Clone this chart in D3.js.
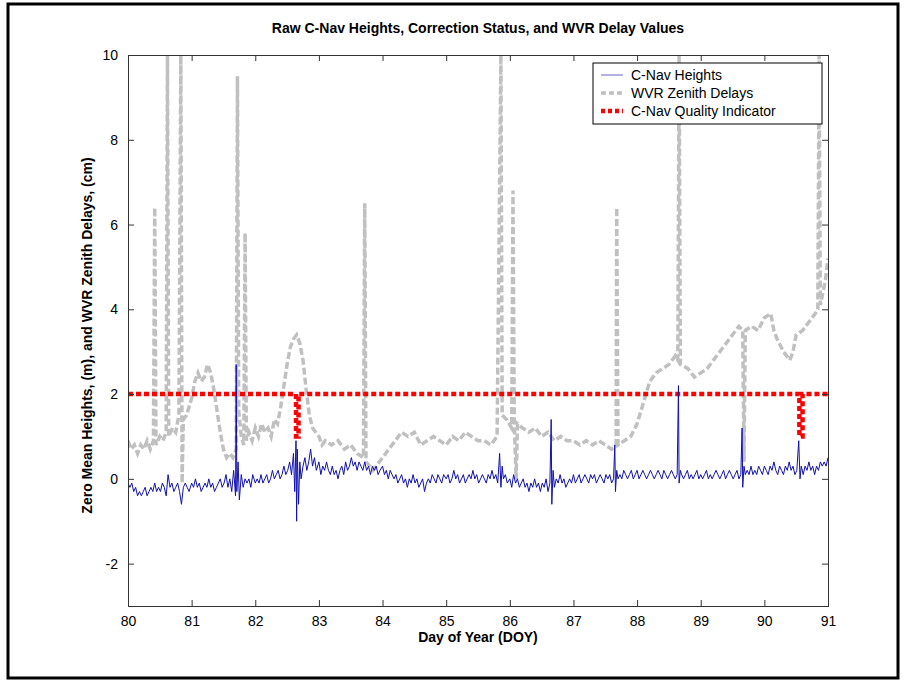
<!DOCTYPE html>
<html>
<head>
<meta charset="utf-8">
<script src="https://cdn.jsdelivr.net/npm/d3@7"></script>
<style>
  body { margin: 0; background: #fff; }
  text { font-family: "Liberation Sans", Arial, sans-serif; }
</style>
</head>
<body>
<svg id="chart" width="904" height="681"></svg>
<script>
const width = 904;
const height = 681;
const margin = { left: 128, right: 76, top: 55, bottom: 75 };

// Tick labels
const xTicks = [80, 81, 82, 83, 84, 85, 86, 87, 88, 89, 90, 91];
const yTicks = [-2, 0, 2, 4, 6, 8, 10];

// WVR zenith delays [day, cm]
const wvr = [
  [80.0, 0.9], [80.05, 0.7], [80.1, 0.8], [80.15, 0.6], [80.2, 0.8], [80.25, 0.7], [80.3, 0.9], [80.35, 0.7],
  [80.4, 0.9], [80.42, 6.4], [80.44, 0.8], [80.5, 1.0], [80.55, 0.9], [80.6, 1.1], [80.62, 10], [80.64, 1.0],
  [80.7, 1.2], [80.75, 1.1], [80.8, 1.5], [80.83, 10], [80.85, -0.1], [80.87, 1.4], [80.92, 1.5], [81.0, 1.9],
  [81.05, 2.3], [81.1, 2.5], [81.15, 2.3], [81.2, 2.4], [81.25, 2.7], [81.3, 2.5], [81.35, 2.1], [81.4, 1.6],
  [81.45, 1.1], [81.5, 0.7], [81.55, 0.5], [81.6, 0.6], [81.65, 0.5], [81.7, 0.7], [81.72, 9.5], [81.74, 1.6],
  [81.78, 1.0], [81.82, 0.8], [81.84, 5.8], [81.86, 0.9], [81.9, 1.1], [81.95, 0.9], [82.0, 1.2], [82.05, 1.0],
  [82.1, 1.3], [82.15, 1.1], [82.2, 1.2], [82.25, 1.0], [82.3, 1.4], [82.35, 1.3], [82.4, 1.7], [82.45, 2.2],
  [82.5, 2.7], [82.55, 3.1], [82.6, 3.3], [82.65, 3.4], [82.7, 3.2], [82.75, 2.8], [82.8, 2.1], [82.85, 1.5],
  [82.9, 1.2], [82.95, 1.1], [83.0, 1.0], [83.05, 0.8], [83.1, 0.9], [83.2, 0.8], [83.3, 0.9], [83.4, 0.7],
  [83.5, 0.8], [83.6, 0.6], [83.7, 0.5], [83.72, 6.5], [83.74, 0.4], [83.8, 0.3], [83.85, 0.2], [83.9, 0.3],
  [84.0, 0.5], [84.1, 0.7], [84.2, 0.9], [84.3, 1.1], [84.4, 1.0], [84.5, 1.1], [84.6, 0.8], [84.7, 0.9],
  [84.8, 1.0], [84.9, 0.9], [85.0, 0.8], [85.1, 1.0], [85.2, 0.9], [85.3, 1.1], [85.4, 1.0], [85.5, 0.9],
  [85.6, 0.9], [85.7, 0.8], [85.8, 1.0], [85.86, 10], [85.88, 1.5], [85.95, 1.4], [86.03, 1.2], [86.05, 6.8],
  [86.07, 1.3], [86.1, 0.0], [86.12, 1.3], [86.2, 1.2], [86.3, 1.1], [86.4, 1.2], [86.5, 1.0], [86.6, 1.1],
  [86.7, 0.9], [86.8, 1.0], [86.9, 0.9], [87.0, 0.9], [87.1, 0.8], [87.2, 0.9], [87.3, 0.8], [87.4, 0.9],
  [87.5, 0.8], [87.6, 0.7], [87.67, 0.8], [87.68, 6.4], [87.7, 0.8], [87.8, 0.9], [87.9, 1.0], [88.0, 1.3],
  [88.1, 1.8], [88.2, 2.3], [88.3, 2.5], [88.4, 2.6], [88.5, 2.7], [88.6, 2.9], [88.64, 2.8], [88.66, 10],
  [88.68, 2.7], [88.8, 2.6], [88.9, 2.4], [89.0, 2.5], [89.1, 2.6], [89.2, 2.8], [89.3, 3.0], [89.4, 3.2],
  [89.5, 3.4], [89.6, 3.6], [89.66, 3.5], [89.68, 0.4], [89.7, 3.5], [89.8, 3.6], [89.9, 3.5], [90.0, 3.8],
  [90.1, 3.9], [90.15, 3.5], [90.2, 3.3], [90.3, 3.0], [90.4, 2.8], [90.45, 3.0], [90.5, 3.4], [90.6, 3.5],
  [90.7, 3.7], [90.8, 3.9], [90.84, 4.0], [90.86, 10], [90.88, 4.1], [90.92, 4.4], [90.96, 4.7], [91.0, 5.2]
];

// C-Nav quality indicator [day, value]
const quality = [
  [80.0, 2], [82.64, 2], [82.64, 1], [82.68, 1], [82.68, 2], [90.55, 2], [90.55, 1], [90.6, 1], [90.6, 2], [91.0, 2]
];

// C-Nav zero-mean heights [day, m]
const cnav = [
  [80.0, -0.1], [80.03, -0.2], [80.06, -0.1], [80.09, -0.3], [80.12, -0.2], [80.15, -0.4], [80.18, -0.3], [80.21, -0.4],
  [80.24, -0.3], [80.27, -0.2], [80.3, -0.4], [80.33, -0.3], [80.36, -0.2], [80.39, -0.3], [80.42, -0.1], [80.45, -0.3],
  [80.48, -0.2], [80.51, -0.3], [80.54, -0.1], [80.57, -0.2], [80.6, -0.4], [80.63, 0.1], [80.66, -0.2], [80.69, -0.1],
  [80.72, -0.3], [80.75, -0.2], [80.78, -0.1], [80.81, -0.3], [80.84, -0.6], [80.87, -0.2], [80.9, -0.1], [80.93, -0.2],
  [80.96, -0.3], [81.0, -0.1], [81.03, -0.2], [81.06, 0.0], [81.09, -0.2], [81.12, -0.1], [81.15, -0.3], [81.18, -0.2],
  [81.21, -0.1], [81.24, -0.2], [81.27, 0.0], [81.3, -0.2], [81.33, -0.1], [81.36, -0.3], [81.39, -0.2], [81.42, -0.1],
  [81.45, 0.0], [81.48, -0.2], [81.51, -0.1], [81.54, 0.1], [81.57, -0.2], [81.6, 0.0], [81.63, -0.3], [81.66, 0.2],
  [81.69, -0.4], [81.7, 2.7], [81.71, -0.3], [81.73, 0.4], [81.75, -0.5], [81.78, 0.1], [81.81, -0.2], [81.84, 0.0],
  [81.87, -0.1], [81.9, 0.0], [81.93, -0.2], [81.96, 0.1], [82.0, -0.1], [82.03, 0.0], [82.06, -0.1], [82.09, 0.1],
  [82.12, -0.1], [82.15, 0.0], [82.18, 0.1], [82.21, -0.1], [82.24, 0.0], [82.27, 0.2], [82.3, 0.0], [82.33, 0.1],
  [82.36, 0.2], [82.39, 0.0], [82.42, 0.1], [82.45, 0.3], [82.48, 0.1], [82.51, 0.2], [82.54, 0.4], [82.57, 0.1],
  [82.6, 0.6], [82.62, -0.3], [82.64, 0.9], [82.65, -1.0], [82.66, 0.7], [82.68, -0.6], [82.7, 0.4], [82.72, 0.0],
  [82.75, 0.3], [82.78, 0.5], [82.81, 0.2], [82.84, 0.4], [82.87, 0.7], [82.9, 0.3], [82.93, 0.5], [82.96, 0.2],
  [83.0, 0.4], [83.03, 0.1], [83.06, 0.3], [83.09, 0.2], [83.12, 0.4], [83.15, 0.2], [83.18, 0.1], [83.21, 0.3],
  [83.24, 0.1], [83.27, 0.2], [83.3, 0.0], [83.33, 0.2], [83.36, 0.3], [83.39, 0.1], [83.42, 0.4], [83.45, 0.2],
  [83.48, 0.3], [83.51, 0.5], [83.54, 0.3], [83.57, 0.4], [83.6, 0.2], [83.63, 0.4], [83.66, 0.3], [83.69, 0.2],
  [83.72, 0.4], [83.75, 0.2], [83.78, 0.3], [83.81, 0.1], [83.84, 0.3], [83.87, 0.2], [83.9, 0.3], [83.93, 0.1],
  [83.96, 0.2], [84.0, 0.3], [84.03, 0.1], [84.06, 0.2], [84.09, 0.0], [84.12, 0.2], [84.15, 0.1], [84.18, 0.0],
  [84.21, 0.1], [84.24, -0.1], [84.27, 0.0], [84.3, 0.1], [84.33, -0.1], [84.36, 0.0], [84.39, -0.2], [84.42, 0.0],
  [84.45, -0.1], [84.48, 0.1], [84.51, -0.1], [84.54, 0.0], [84.57, -0.2], [84.6, -0.1], [84.63, 0.0], [84.66, -0.3],
  [84.69, -0.1], [84.72, 0.0], [84.75, -0.1], [84.78, 0.1], [84.81, 0.0], [84.84, -0.1], [84.87, 0.1], [84.9, 0.0],
  [84.93, -0.1], [84.96, 0.1], [85.0, 0.0], [85.03, 0.1], [85.06, -0.1], [85.09, 0.0], [85.12, 0.2], [85.15, 0.0],
  [85.18, 0.1], [85.21, -0.1], [85.24, 0.0], [85.27, 0.1], [85.3, -0.1], [85.33, 0.0], [85.36, 0.1], [85.39, 0.0],
  [85.42, 0.2], [85.45, 0.0], [85.48, 0.1], [85.51, -0.1], [85.54, 0.0], [85.57, 0.1], [85.6, 0.0], [85.63, -0.1],
  [85.66, 0.1], [85.69, 0.0], [85.72, 0.2], [85.75, 0.0], [85.78, 0.1], [85.81, -0.1], [85.84, 0.6], [85.86, -0.2],
  [85.88, 0.3], [85.9, 0.0], [85.93, 0.1], [85.96, -0.1], [86.0, 0.0], [86.03, -0.2], [86.06, 0.1], [86.09, -0.1],
  [86.12, 0.0], [86.15, -0.2], [86.18, -0.1], [86.21, 0.0], [86.24, -0.2], [86.27, -0.1], [86.3, -0.3], [86.33, -0.1],
  [86.36, -0.2], [86.39, 0.0], [86.42, -0.2], [86.45, -0.1], [86.48, -0.3], [86.51, -0.1], [86.54, -0.2], [86.57, 0.0],
  [86.6, -0.3], [86.63, -0.1], [86.65, 1.4], [86.66, -0.6], [86.68, 0.2], [86.7, -0.2], [86.73, 0.0], [86.76, -0.1],
  [86.79, 0.1], [86.82, -0.1], [86.85, 0.0], [86.88, -0.2], [86.91, -0.1], [86.94, 0.0], [86.97, -0.1], [87.0, 0.1],
  [87.03, -0.1], [87.06, 0.0], [87.09, 0.1], [87.12, -0.1], [87.15, 0.0], [87.18, 0.1], [87.21, 0.0], [87.24, -0.1],
  [87.27, 0.1], [87.3, 0.0], [87.33, 0.1], [87.36, -0.1], [87.39, 0.0], [87.42, 0.1], [87.45, 0.0], [87.48, -0.1],
  [87.51, 0.1], [87.54, 0.0], [87.57, 0.1], [87.6, -0.1], [87.63, 0.0], [87.65, 0.8], [87.66, -0.3], [87.68, 0.2],
  [87.7, 0.0], [87.73, 0.1], [87.76, 0.0], [87.79, 0.2], [87.82, 0.1], [87.85, 0.0], [87.88, 0.1], [87.91, 0.2],
  [87.94, 0.0], [87.97, 0.1], [88.0, 0.2], [88.03, 0.0], [88.06, 0.1], [88.09, 0.2], [88.12, 0.1], [88.15, 0.0],
  [88.18, 0.1], [88.21, 0.2], [88.24, 0.1], [88.27, 0.0], [88.3, 0.1], [88.33, 0.2], [88.36, 0.1], [88.39, 0.0],
  [88.42, 0.2], [88.45, 0.1], [88.48, 0.0], [88.51, 0.1], [88.54, 0.2], [88.57, 0.1], [88.6, 0.0], [88.63, 0.1],
  [88.65, 2.2], [88.66, -0.1], [88.68, 0.2], [88.7, 0.1], [88.73, 0.0], [88.76, 0.1], [88.79, 0.2], [88.82, 0.0],
  [88.85, 0.1], [88.88, 0.0], [88.91, 0.1], [88.94, 0.2], [88.97, 0.0], [89.0, 0.1], [89.03, 0.0], [89.06, 0.1],
  [89.09, 0.2], [89.12, 0.0], [89.15, 0.1], [89.18, 0.0], [89.21, 0.1], [89.24, 0.2], [89.27, 0.1], [89.3, 0.0],
  [89.33, 0.1], [89.36, 0.2], [89.39, 0.0], [89.42, 0.1], [89.45, 0.2], [89.48, 0.1], [89.51, 0.0], [89.54, 0.1],
  [89.57, 0.2], [89.6, 0.0], [89.63, 0.1], [89.65, 1.2], [89.66, -0.2], [89.68, 0.3], [89.7, 0.1], [89.73, 0.2],
  [89.76, 0.1], [89.79, 0.3], [89.82, 0.1], [89.85, 0.2], [89.88, 0.1], [89.91, 0.3], [89.94, 0.2], [89.97, 0.1],
  [90.0, 0.3], [90.03, 0.2], [90.06, 0.1], [90.09, 0.3], [90.12, 0.2], [90.15, 0.4], [90.18, 0.2], [90.21, 0.1],
  [90.24, 0.3], [90.27, 0.2], [90.3, 0.1], [90.33, 0.3], [90.36, 0.2], [90.39, 0.4], [90.42, 0.2], [90.45, 0.3],
  [90.48, 0.1], [90.51, 0.2], [90.54, 0.9], [90.56, 0.0], [90.58, 0.3], [90.61, 0.1], [90.64, 0.3], [90.67, 0.2],
  [90.7, 0.4], [90.73, 0.2], [90.76, 0.3], [90.79, 0.1], [90.82, 0.3], [90.85, 0.2], [90.88, 0.4], [90.91, 0.3],
  [90.94, 0.4], [90.97, 0.3], [91.0, 0.5]
];

const svg = d3.select('#chart');

// Outer frame
svg.append('rect')
    .attr('x', 8).attr('y', 4)
    .attr('width', 890).attr('height', 674)
    .attr('fill', 'none').attr('stroke', '#000').attr('stroke-width', 3);

const x = d3.scaleLinear().domain([80, 91]).range([margin.left, width - margin.right]);
const y = d3.scaleLinear().domain([-3, 10]).range([height - margin.bottom, margin.top]);

svg.append('clipPath').attr('id', 'plot')
    .append('rect')
    .attr('x', margin.left).attr('y', margin.top)
    .attr('width', x(91) - x(80)).attr('height', y(-3) - y(10));

const line = d3.line().x(d => x(d[0])).y(d => y(d[1]));
const plot = svg.append('g').attr('clip-path', 'url(#plot)');

plot.append('path')
    .attr('d', line(wvr))
    .attr('fill', 'none')
    .attr('stroke', '#c0c0c0')
    .attr('stroke-width', 3.5)
    .attr('stroke-dasharray', '7,3');

plot.append('path')
    .attr('d', line(quality))
    .attr('fill', 'none')
    .attr('stroke', '#ff0000')
    .attr('stroke-width', 4.5)
    .attr('stroke-dasharray', '5,3');

plot.append('path')
    .attr('d', line(cnav))
    .attr('fill', 'none')
    .attr('stroke', '#1010b0')
    .attr('stroke-width', 1);

// Axes with inward ticks, MATLAB style
const fmt = d => String(d);
svg.append('g')
    .attr('transform', `translate(0,${y(-3)})`)
    .call(d3.axisBottom(x).tickValues(xTicks).tickSize(-6).tickPadding(10).tickFormat(fmt));
svg.append('g')
    .attr('transform', `translate(0,${y(10)})`)
    .call(d3.axisTop(x).tickValues(xTicks).tickSize(-6).tickFormat(''));
svg.append('g')
    .attr('transform', `translate(${x(80)},0)`)
    .call(d3.axisLeft(y).tickValues(yTicks).tickSize(-6).tickPadding(10).tickFormat(fmt));
svg.append('g')
    .attr('transform', `translate(${x(91)},0)`)
    .call(d3.axisRight(y).tickValues(yTicks).tickSize(-6).tickFormat(''));

svg.selectAll('.domain, .tick line').attr('stroke', '#333');
svg.selectAll('.tick text').attr('font-size', 14).attr('fill', '#000');

// Title and axis labels
svg.append('text')
    .attr('x', (x(80) + x(91)) / 2).attr('y', 33)
    .attr('text-anchor', 'middle')
    .attr('font-size', 14).attr('font-weight', 'bold')
    .text('Raw C-Nav Heights, Correction Status, and WVR Delay Values');

svg.append('text')
    .attr('x', (x(80) + x(91)) / 2).attr('y', 642)
    .attr('text-anchor', 'middle')
    .attr('font-size', 14).attr('font-weight', 'bold')
    .text('Day of Year (DOY)');

svg.append('text')
    .attr('transform', `translate(92,${(y(-3) + y(10)) / 2 + 5}) rotate(-90)`)
    .attr('text-anchor', 'middle')
    .attr('font-size', 14).attr('font-weight', 'bold')
    .text('Zero Mean Heights, (m), and WVR Zenith Delays, (cm)');

// Legend
const legendItems = [
    { label: 'C-Nav Heights', color: '#9999dd', width: 1.5, dash: null },
    { label: 'WVR Zenith Delays', color: '#c0c0c0', width: 3.5, dash: '5,3' },
    { label: 'C-Nav Quality Indicator', color: '#ff0000', width: 4.5, dash: '4,3' }
];
const legend = svg.append('g').attr('transform', 'translate(593,63)');
legend.append('rect')
    .attr('width', 229).attr('height', 61)
    .attr('fill', '#fff').attr('stroke', '#000');
const rows = legend.selectAll('.row')
    .data(legendItems)
    .enter().append('g')
    .attr('transform', (d, i) => `translate(0,${12 + i * 18})`);
rows.append('line')
    .attr('x1', 8).attr('x2', 30)
    .attr('stroke', d => d.color)
    .attr('stroke-width', d => d.width)
    .attr('stroke-dasharray', d => d.dash);
rows.append('text')
    .attr('x', 38).attr('y', 5)
    .attr('font-size', 14)
    .text(d => d.label);
</script>
</body>
</html>
